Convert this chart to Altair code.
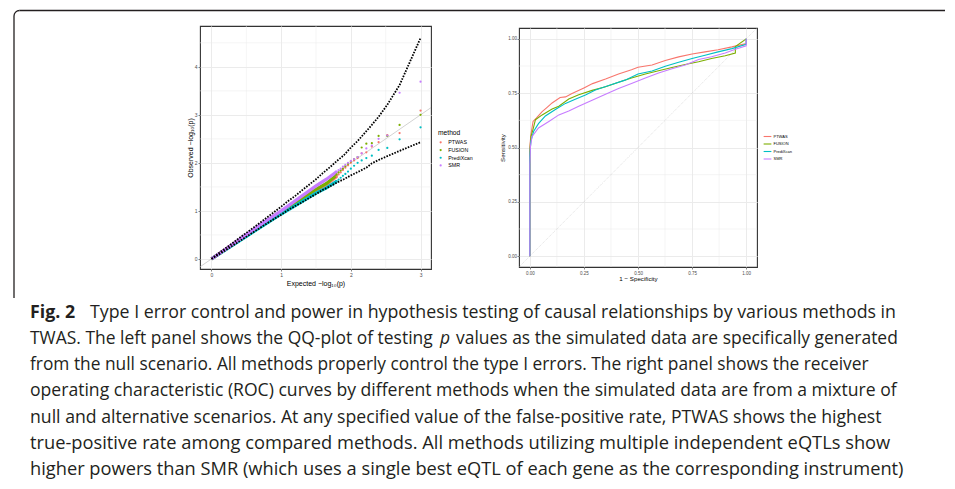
import altair as alt
import pandas as pd

METHODS = ["PTWAS", "FUSION", "PrediXcan", "SMR"]
COLORS = ["#F8766D", "#7CAE00", "#00BFC4", "#C77CFF"]

# ---------------- left panel: QQ plot ----------------
dense_x = [0, 0.25, 0.5, 0.75, 1.0, 1.25, 1.5, 1.65, 1.8]
dense_ptwas = [0, 0.245, 0.49, 0.735, 0.97, 1.2, 1.43, 1.55, 1.72]
dense_fusion = [0, 0.245, 0.49, 0.73, 0.97, 1.21, 1.45, 1.57, 1.75]
dense_predixcan = [0, 0.235, 0.47, 0.705, 0.935, 1.15, 1.37, 1.48, 1.62]
dense_smr = [0, 0.25, 0.505, 0.76, 1.0, 1.26, 1.52, 1.66, 1.82]

tail_x = [3.0, 2.699, 2.523, 2.398, 2.301, 2.222, 2.155, 2.097, 2.046, 2.0,
          1.959, 1.921, 1.886, 1.854, 1.824, 1.796]
tail_ptwas = [3.09, 2.62, 2.58, 2.43, 2.34, 2.22, 2.20, 2.10, 2.05, 2.0,
              1.95, 1.90, 1.85, 1.80, 1.76, 1.72]
tail_fusion = [3.00, 2.79, 2.56, 2.56, 2.41, 2.40, 2.32, 2.12, 2.08, 2.03,
               1.98, 1.93, 1.88, 1.84, 1.80, 1.76]
tail_predixcan = [2.74, 2.49, 2.31, 2.27, 2.15, 2.10, 2.05, 2.0, 1.94, 1.88,
                  1.82, 1.77, 1.73, 1.69, 1.65, 1.62]
tail_smr = [3.69, 3.46, 2.57, 2.50, 2.36, 2.30, 2.20, 2.12, 2.08, 2.04,
            2.0, 1.96, 1.92, 1.88, 1.85, 1.82]

band_x = [0, 0.1, 0.2, 0.3, 0.4, 0.5, 0.6, 0.7, 0.8, 0.9, 1.0, 1.1, 1.2, 1.3,
          1.4, 1.5, 1.6, 1.7, 1.8, 1.9, 2.0, 2.1, 2.222, 2.301, 2.398, 2.523,
          2.699, 3.0]
band_upper = [0.002, 0.115, 0.221, 0.328, 0.435, 0.542, 0.65, 0.757, 0.868,
              0.977, 1.089, 1.206, 1.31, 1.43, 1.544, 1.66, 1.79, 1.91, 2.04,
              2.16, 2.32, 2.46, 2.66, 2.79, 2.96, 3.21, 3.62, 4.60]
band_lower = [0.0, 0.087, 0.18, 0.274, 0.368, 0.462, 0.556, 0.649, 0.743,
              0.834, 0.921, 1.019, 1.10, 1.18, 1.267, 1.35, 1.44, 1.51, 1.59,
              1.66, 1.74, 1.81, 1.90, 1.99, 2.06, 2.14, 2.25, 2.43]

diag_left = [-0.165, 3.15]
left_major_x = [0, 1, 2, 3]
left_minor_x = [0.5, 1.5, 2.5]
left_major_y = [0, 1, 2, 3, 4]
left_minor_y = [0.5, 1.5, 2.5, 3.5, 4.5]

# ---------------- right panel: ROC ----------------
roc_ptwas_x = [0, 0, 0.005, 0.015, 0.03, 0.057, 0.08, 0.103, 0.14, 0.165, 0.195,
               0.25, 0.29, 0.35, 0.41, 0.47, 0.5, 0.565, 0.626, 0.688, 0.75,
               0.81, 0.87, 0.934, 1.0, 1.0]
roc_ptwas_y = [0, 0.5, 0.56, 0.62, 0.635, 0.665, 0.685, 0.705, 0.73, 0.733, 0.748,
               0.774, 0.794, 0.815, 0.838, 0.858, 0.869, 0.88, 0.9, 0.917, 0.93,
               0.94, 0.95, 0.963, 0.978, 1.0]
roc_fusion_x = [0, 0, 0.005, 0.014, 0.026, 0.057, 0.103, 0.134, 0.18, 0.226,
                0.288, 0.35, 0.41, 0.47, 0.534, 0.595, 0.657, 0.718, 0.78, 0.84,
                0.903, 0.95, 0.95, 1.0]
roc_fusion_y = [0, 0.48, 0.55, 0.58, 0.628, 0.65, 0.677, 0.69, 0.723, 0.743,
                0.763, 0.78, 0.8, 0.82, 0.838, 0.853, 0.868, 0.882, 0.895, 0.91,
                0.922, 0.935, 0.965, 1.0]
roc_predixcan_x = [0, 0, 0.005, 0.018, 0.04, 0.072, 0.118, 0.165, 0.21, 0.257,
                   0.303, 0.365, 0.44, 0.5, 0.565, 0.626, 0.688, 0.75, 0.81,
                   0.87, 0.934, 1.0, 1.0]
roc_predixcan_y = [0, 0.46, 0.53, 0.575, 0.61, 0.645, 0.675, 0.703, 0.722, 0.742,
                   0.765, 0.785, 0.81, 0.838, 0.852, 0.874, 0.892, 0.91, 0.925,
                   0.94, 0.955, 0.975, 1.0]
roc_smr_x = [0, 0, 0.003, 0.01, 0.04, 0.088, 0.134, 0.18, 0.226, 0.288, 0.35,
             0.41, 0.47, 0.534, 0.595, 0.657, 0.718, 0.78, 0.84, 0.903, 0.95,
             1.0, 1.0]
roc_smr_y = [0, 0.42, 0.505, 0.55, 0.59, 0.62, 0.65, 0.668, 0.69, 0.718, 0.745,
             0.772, 0.795, 0.82, 0.843, 0.862, 0.88, 0.905, 0.918, 0.935, 0.952,
             0.968, 1.0]

diag_right = [-0.05, 1.05]
right_major = [0, 0.25, 0.5, 0.75, 1.0]
right_minor = [0.125, 0.375, 0.625, 0.875]

# ---------------- caption ----------------
caption_bold = "Fig. 2"
caption_lines = [
    "Type I error control and power in hypothesis testing of causal relationships by various methods in",
    "TWAS. The left panel shows the QQ-plot of testing",
    "from the null scenario. All methods properly control the type I errors. The right panel shows the receiver",
    "operating characteristic (ROC) curves by different methods when the simulated data are from a mixture of",
    "null and alternative scenarios. At any specified value of the false-positive rate, PTWAS shows the highest",
    "true-positive rate among compared methods. All methods utilizing multiple independent eQTLs show",
    "higher powers than SMR (which uses a single best eQTL of each gene as the corresponding instrument)",
]
caption_italic = "p"
caption_line2_rest = "values as the simulated data are specifically generated"

# ======================================================
AX_FONT = "Liberation Sans"
CAP_FONT = "Open Sans"
CAP_SIZES = [17.78, 17.46, 17.34, 17.58, 17.67, 18.3, 18.26]
CAP_COLOR = "#231F20"
GRID = "#EBEBEB"

one = pd.DataFrame({"k": [0]})

dense_vals = {"PTWAS": dense_ptwas, "FUSION": dense_fusion,
              "PrediXcan": dense_predixcan, "SMR": dense_smr}
tail_vals = {"PTWAS": tail_ptwas, "FUSION": tail_fusion,
             "PrediXcan": tail_predixcan, "SMR": tail_smr}
tail_rows = []
for m in METHODS:
    for xv, yv in zip(reversed(tail_x), reversed(tail_vals[m])):
        tail_rows.append({"x": xv, "y": yv, "method": m})
tail_df = pd.DataFrame(tail_rows)

XL = alt.Scale(domain=[-0.165, 3.15], nice=False, zero=False)
YL = alt.Scale(domain=[-0.21, 4.85], nice=False, zero=False)

ax_lx = alt.Axis(values=left_major_x, format="d", title="Expected −log₁₀(p)",
                 grid=True, gridColor=GRID, gridWidth=1, domain=False,
                 tickColor="#333333", tickSize=2, tickWidth=0.6,
                 labelFont=AX_FONT, labelFontSize=5, labelColor="#4D4D4D",
                 labelPadding=1, titleFont=AX_FONT, titleFontSize=7,
                 titleFontWeight="normal", titleColor="#000000", titlePadding=2.5)
ax_ly = alt.Axis(values=left_major_y, format="d", title="Observed −log₁₀(p)",
                 grid=True, gridColor=GRID, gridWidth=1, domain=False,
                 tickColor="#333333", tickSize=2, tickWidth=0.6,
                 labelFont=AX_FONT, labelFontSize=5, labelColor="#4D4D4D",
                 labelPadding=1, titleFont=AX_FONT, titleFontSize=7,
                 titleFontWeight="normal", titleColor="#000000", titlePadding=1)


def lx():
    return alt.X("x:Q", scale=XL, axis=ax_lx)


def ly():
    return alt.Y("y:Q", scale=YL, axis=ax_ly)


left_layers = []
left_layers.append(
    alt.Chart(pd.DataFrame({"x": left_minor_x})).mark_rule(color=GRID, strokeWidth=0.5)
    .encode(x=lx()))
left_layers.append(
    alt.Chart(pd.DataFrame({"y": left_minor_y})).mark_rule(color=GRID, strokeWidth=0.5)
    .encode(y=ly()))
left_layers.append(
    alt.Chart(pd.DataFrame({"x": diag_left, "y": diag_left}))
    .mark_line(color="#B3B3B3", strokeWidth=0.6, clip=True)
    .encode(x=lx(), y=ly()))
for m, c in zip(METHODS, COLORS):
    left_layers.append(
        alt.Chart(pd.DataFrame({"x": dense_x, "y": dense_vals[m]}))
        .mark_line(color=c, strokeWidth=3.2)
        .encode(x=lx(), y=ly()))
left_layers.append(
    alt.Chart(tail_df).mark_point(filled=True, size=5, opacity=1, shape="circle")
    .encode(x=lx(), y=ly(),
            fill=alt.Fill("method:N", sort=METHODS,
                          scale=alt.Scale(domain=METHODS, range=COLORS),
                          legend=alt.Legend(title="method", orient="none",
                                            legendX=238, legendY=104,
                                            titleFont=AX_FONT, titleFontSize=6.7,
                                            titleFontWeight="normal",
                                            titleColor="#000000", titlePadding=3,
                                            symbolType="circle", symbolSize=5,
                                            symbolStrokeWidth=0,
                                            labelFont=AX_FONT, labelFontSize=5.3,
                                            labelColor="#000000", labelOffset=5,
                                            rowPadding=1.7, padding=0))))
for bv in (band_upper, band_lower):
    left_layers.append(
        alt.Chart(pd.DataFrame({"x": band_x, "y": bv}))
        .mark_line(color="#000000", strokeWidth=1.8, strokeDash=[1.6, 1.3])
        .encode(x=lx(), y=ly()))

# frame of the figure box (pixel positions relative to the left panel)
left_layers.append(
    alt.Chart(one).mark_rule(color=CAP_COLOR, strokeWidth=1.3)
    .encode(x=alt.value(-180.5), x2=alt.value(745), y=alt.value(-15.5)))
left_layers.append(
    alt.Chart(one).mark_rule(color=CAP_COLOR, strokeWidth=1.3)
    .encode(x=alt.value(-186), y=alt.value(-10), y2=alt.value(272)))
left_layers.append(
    alt.Chart(one).mark_arc(color=CAP_COLOR, radius=6.15, radius2=4.85,
                            theta=4.71239, theta2=6.28318)
    .encode(x=alt.value(-180.5), y=alt.value(-10)))

# caption (pixel positions relative to the left panel)
base_y = 292
line_gap = 26.15
cap_x = -170


def cap_text(txt, x, y, size, **kw):
    return (alt.Chart(one)
            .mark_text(align="left", baseline="alphabetic", font=CAP_FONT,
                       fontSize=size, color=CAP_COLOR, **kw)
            .encode(x=alt.value(x), y=alt.value(y), text=alt.value(txt)))


left_layers.append(cap_text(caption_bold, cap_x, base_y, CAP_SIZES[0], fontWeight="bold"))
left_layers.append(cap_text(caption_lines[0], 88 - 198, base_y, CAP_SIZES[0]))
for i in range(1, 7):
    left_layers.append(cap_text(caption_lines[i], cap_x, base_y + i * line_gap, CAP_SIZES[i]))
left_layers.append(cap_text(caption_italic, 438 - 198, base_y + line_gap, CAP_SIZES[1],
                            fontStyle="italic"))
left_layers.append(cap_text(caption_line2_rest, 454 - 198, base_y + line_gap, CAP_SIZES[1]))

left = alt.layer(*left_layers).properties(width=231, height=243)

# ---- right panel
roc_vals = {"PTWAS": (roc_ptwas_x, roc_ptwas_y), "FUSION": (roc_fusion_x, roc_fusion_y),
            "PrediXcan": (roc_predixcan_x, roc_predixcan_y), "SMR": (roc_smr_x, roc_smr_y)}
roc_rows = []
for m in METHODS:
    xs, ys = roc_vals[m]
    for k, (xv, yv) in enumerate(zip(xs, ys)):
        roc_rows.append({"x": xv, "y": yv, "method": m, "order": k})
roc_df = pd.DataFrame(roc_rows)

XR = alt.Scale(domain=[-0.05, 1.05], nice=False, zero=False)
YR = alt.Scale(domain=[-0.05, 1.05], nice=False, zero=False)
ax_rx = alt.Axis(values=right_major, format=".2f", title="1 − Specificity",
                 grid=True, gridColor=GRID, gridWidth=1, domain=False,
                 tickColor="#333333", tickSize=2, tickWidth=0.6,
                 labelFont=AX_FONT, labelFontSize=4.5, labelColor="#4D4D4D",
                 labelPadding=1, titleFont=AX_FONT, titleFontSize=6.2,
                 titleFontWeight="normal", titleColor="#000000", titlePadding=1)
ax_ry = alt.Axis(values=right_major, format=".2f", title="Sensitivity",
                 grid=True, gridColor=GRID, gridWidth=1, domain=False,
                 tickColor="#333333", tickSize=2, tickWidth=0.6,
                 labelFont=AX_FONT, labelFontSize=4.5, labelColor="#4D4D4D",
                 labelPadding=0.5, titleFont=AX_FONT, titleFontSize=6.2,
                 titleFontWeight="normal", titleColor="#000000", titlePadding=2)


def rx():
    return alt.X("x:Q", scale=XR, axis=ax_rx)


def ry():
    return alt.Y("y:Q", scale=YR, axis=ax_ry)


right_layers = [
    alt.Chart(pd.DataFrame({"x": right_minor})).mark_rule(color=GRID, strokeWidth=0.5)
    .encode(x=rx()),
    alt.Chart(pd.DataFrame({"y": right_minor})).mark_rule(color=GRID, strokeWidth=0.5)
    .encode(y=ry()),
    alt.Chart(pd.DataFrame({"x": diag_right, "y": diag_right}))
    .mark_line(color="#BEBEBE", strokeWidth=0.5, strokeDash=[1, 1], clip=True)
    .encode(x=rx(), y=ry()),
    alt.Chart(roc_df).mark_line(strokeWidth=1.1)
    .encode(x=rx(), y=ry(), order="order:Q",
            color=alt.Color("method:N", sort=METHODS,
                            scale=alt.Scale(domain=METHODS, range=COLORS),
                            legend=alt.Legend(title=None, orient="none",
                                              legendX=244, legendY=104,
                                              symbolType="stroke", symbolSize=60,
                                              symbolStrokeWidth=1.1,
                                              labelFont=AX_FONT, labelFontSize=4,
                                              labelColor="#000000", labelOffset=1.5,
                                              rowPadding=0.5, padding=0))),
]
right = alt.layer(*right_layers).properties(width=238, height=239)

chart = (
    alt.hconcat(left, right, spacing=88, bounds="flush", center=True)
    .resolve_scale(fill="independent", color="independent", x="independent", y="independent")
    .resolve_legend(fill="independent", color="independent")
    .properties(padding={"left": 4, "top": 1, "right": 0, "bottom": 0},
                background="white")
    .configure_view(stroke="#333333", strokeWidth=1.1)
)

chart.save("out.html", embed_options={"renderer": "svg", "actions": False})
